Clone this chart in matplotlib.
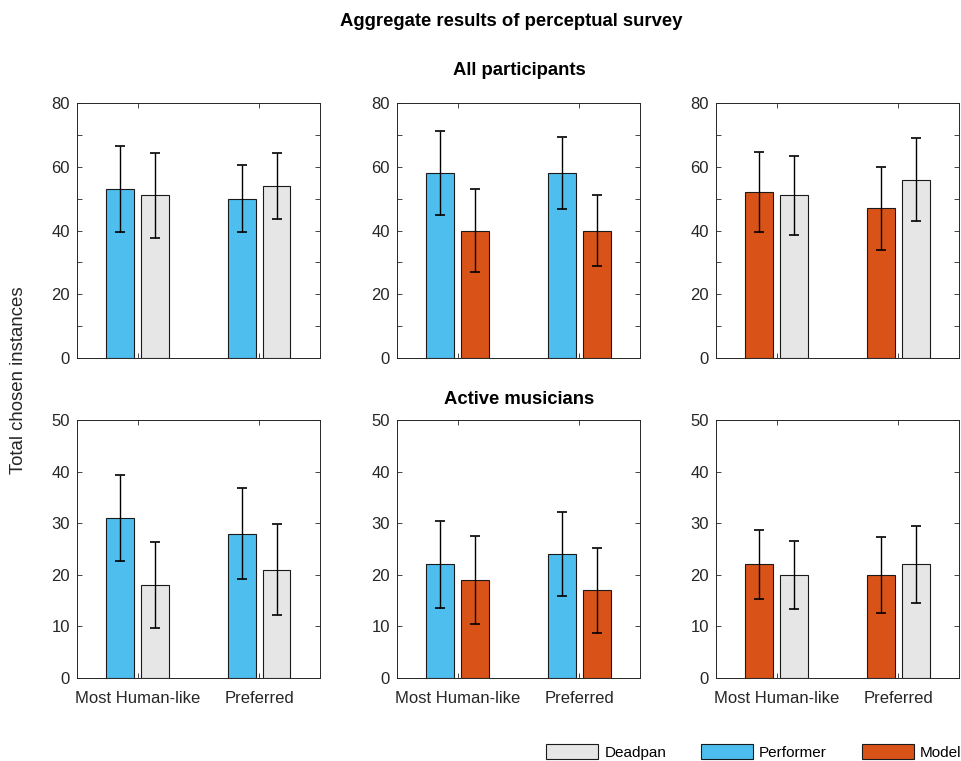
import numpy as np
import matplotlib.pyplot as plt
from matplotlib.patches import Patch
from matplotlib.ticker import MultipleLocator

plt.rcParams['font.family'] = ['Liberation Sans', 'DejaVu Sans']

categories = ['Most Human-like', 'Preferred']

colors = {'Deadpan': '#E6E6E6', 'Performer': '#4DBEEE', 'Model': '#D95319'}

# all participants
all_pairs = [('Performer', 'Deadpan'), ('Performer', 'Model'), ('Model', 'Deadpan')]
all_left = [[53, 50], [58, 58], [52, 47]]
all_right = [[51, 54], [40, 40], [51, 56]]
all_left_err = [[13.4, 10.4], [13.1, 11.2], [12.5, 13.0]]
all_right_err = [[13.4, 10.4], [13.1, 11.2], [12.4, 12.9]]

# active musicians
mus_left = [[31, 28], [22, 24], [22, 20]]
mus_right = [[18, 21], [19, 17], [20, 22]]
mus_left_err = [[8.3, 8.8], [8.5, 8.2], [6.6, 7.4]]
mus_right_err = [[8.3, 8.75], [8.5, 8.2], [6.6, 7.4]]

fig = plt.figure(figsize=(9.62, 7.61), dpi=100)

lefts = [0.080, 0.4127, 0.7443]
width = 0.2526
rows = [(0.5296, 0.335, all_left, all_right, all_left_err, all_right_err, 80, 20),
        (0.1091, 0.339, mus_left, mus_right, mus_left_err, mus_right_err, 50, 10)]

ink = '#262626'
x = np.arange(1, len(categories) + 1)
off = 0.143
bw = 0.229

for r, (bottom, height, lv, rv, le, re, ymax, step) in enumerate(rows):
    for i, lx in enumerate(lefts):
        ax = fig.add_axes([lx, bottom, width, height])
        a, b = all_pairs[i]
        ax.bar(x - off, lv[i], bw, color=colors[a], edgecolor='#1a1a1a', linewidth=0.8, zorder=2)
        ax.bar(x + off, rv[i], bw, color=colors[b], edgecolor='#1a1a1a', linewidth=0.8, zorder=2)
        ax.errorbar(x - off, lv[i], yerr=le[i], fmt='none', ecolor='black', elinewidth=1,
                    capsize=3.6, capthick=1.2, zorder=3)
        ax.errorbar(x + off, rv[i], yerr=re[i], fmt='none', ecolor='black', elinewidth=1,
                    capsize=3.6, capthick=1.2, zorder=3)
        ax.set_xlim(0.5, 2.5)
        ax.set_ylim(0, ymax)
        ax.yaxis.set_major_locator(MultipleLocator(step))
        ax.yaxis.set_minor_locator(MultipleLocator(10))
        ax.set_xticks(x)
        if r == 1:
            ax.set_xticklabels(categories)
        else:
            ax.set_xticklabels([])
        ax.tick_params(which='both', direction='in', top=True, right=True, length=3.5,
                       width=0.6, color=ink, labelcolor=ink, labelsize=12)
        ax.tick_params(axis='x', pad=9.3)
        ax.tick_params(axis='y', pad=5.0)
        for s in ax.spines.values():
            s.set_color(ink)
            s.set_linewidth(0.7)

fig.text(0.531, 0.9717, 'Aggregate results of perceptual survey', ha='center', va='center',
         fontsize=13.3, fontweight='bold')
fig.text(0.5395, 0.907, 'All participants', ha='center', va='center', fontsize=13.3, fontweight='bold')
fig.text(0.5395, 0.4745, 'Active musicians', ha='center', va='center', fontsize=13.3, fontweight='bold')
fig.text(0.019, 0.5, 'Total chosen instances', ha='center', va='center', rotation=90,
         fontsize=13.4, color=ink)

handles = [Patch(facecolor=colors[k], edgecolor='#1a1a1a', linewidth=0.8)
           for k in ['Deadpan', 'Performer', 'Model']]
fig.legend(handles, ['Deadpan', 'Performer', 'Model'], ncol=3, frameon=False,
           loc='center right', bbox_to_anchor=(1.0135, 0.012), fontsize=11,
           handlelength=3.4, handleheight=1.1, handletextpad=0.4, columnspacing=2.27)

fig.savefig('out.png', dpi=100)
